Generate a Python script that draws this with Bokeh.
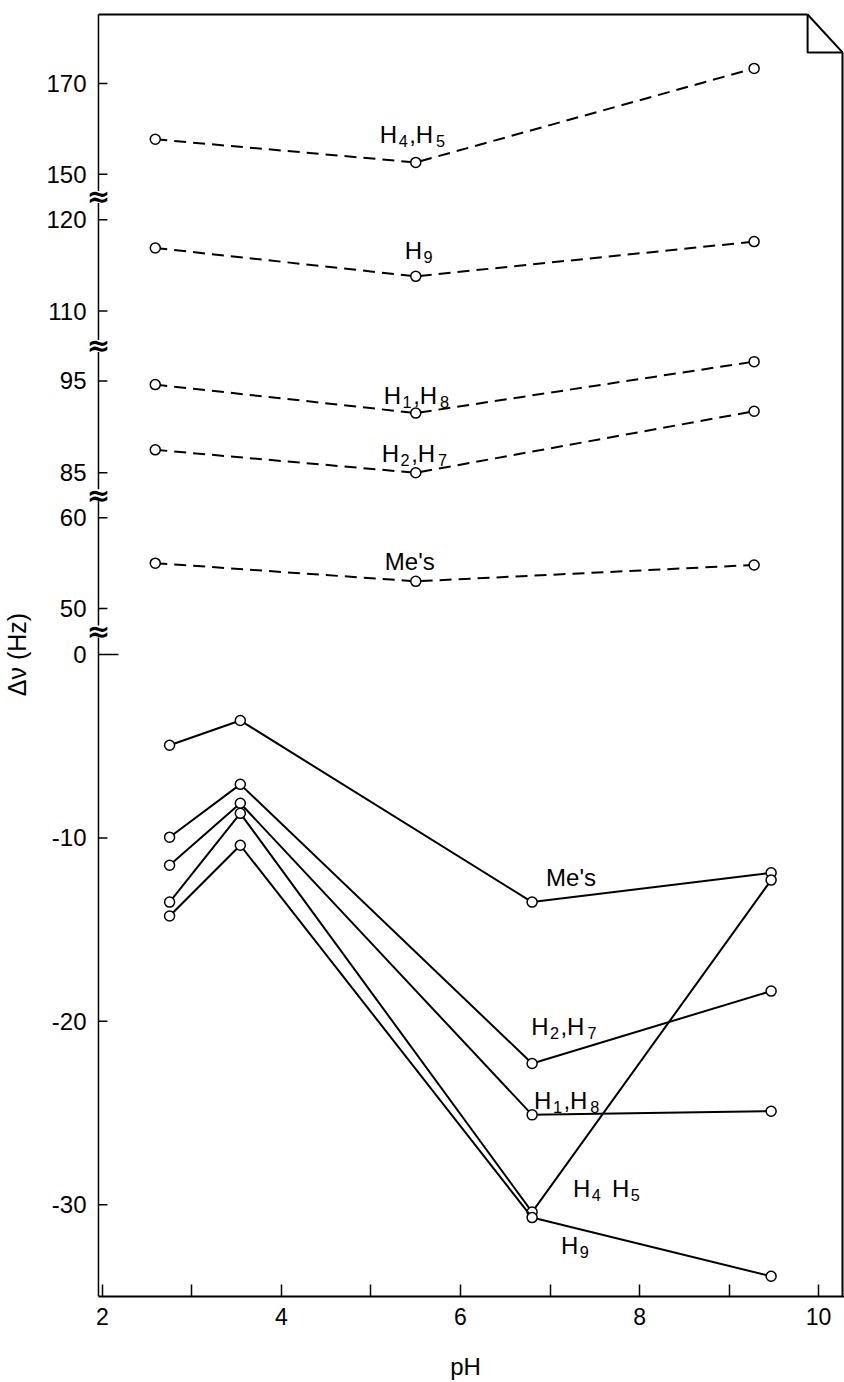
from bokeh.plotting import figure
from bokeh.models import Range1d, FixedTicker
from bokeh.core.properties import value
from bokeh.embed import file_html
from bokeh.resources import INLINE

# ---------------- data ----------------
PH_UPPER = [2.59, 5.50, 9.28]
UP_H45 = [157.7, 152.6, 173.3]
UP_H9 = [116.9, 113.8, 117.6]
UP_H18 = [94.6, 91.5, 97.1]
UP_H27 = [87.5, 85.0, 91.7]
UP_ME = [55.0, 53.0, 54.8]

PH_LOWER = [2.75, 3.54, 6.80, 9.47]
LO_ME = [-4.95, -3.6, -13.5, -11.9]
LO_H27 = [-9.96, -7.08, -22.3, -18.35]
LO_H18 = [-11.49, -8.11, -25.1, -24.9]
LO_H45 = [-13.5, -8.66, -30.4, -12.3]
LO_H9 = [-14.26, -10.4, -30.7, -33.9]

# "_d" marks a subscript digit
UP_LABELS = ["H_4,H_5", "H_9", "H_1,H_8", "H_2,H_7", "Me's"]
LO_LABELS = ["Me's", "H_2,H_7", "H_1,H_8", "H_4 H_5", "H_9"]

Y_TICKS = [170, 150, 120, 110, 95, 85, 60, 50, 0, -10, -20, -30]
X_TICKS = [2, 4, 6, 8, 10]
X_MINOR = [3, 5, 7, 9]
X_LABEL = "pH"
Y_LABEL = "\u0394\u03bd (Hz)"

# ---------------- layout ----------------
FONT = "Liberation Sans"
W, H = 844, 1382
XS = 89.75            # px per pH unit
YS = 18.37            # px per display unit
F_LEFT, F_TOP, F_BOTTOM = 84, 12, 1298
AXIS_PX = 96          # page x of the drawn left axis
ZERO_PY = 655         # page y of display 0
X0 = 2 - (100 - F_LEFT) / XS
X1 = X0 + (W - F_LEFT) / XS
Y0 = (ZERO_PY - F_BOTTOM) / YS
Y1 = (ZERO_PY - F_TOP) / YS

# broken axis: (Hz lo, Hz hi, display lo, display hi)
SEGMENTS = [
    (-35.0, 0.0, -35.0, 0.0),
    (50.0, 60.0, 2.504, 7.458),
    (85.0, 95.0, 9.907, 14.916),
    (110.0, 120.0, 18.726, 23.707),
    (150.0, 170.0, 26.184, 31.138),
]


def to_disp(v):
    best = None
    for lo, hi, dlo, dhi in SEGMENTS:
        d = 0.0 if lo <= v <= hi else min(abs(v - lo), abs(v - hi))
        if best is None or d < best[0]:
            best = (d, lo, hi, dlo, dhi)
    _, lo, hi, dlo, dhi = best
    return dlo + (v - lo) * (dhi - dlo) / (hi - lo)


def px_x(px):
    return X0 + (px - F_LEFT) / XS


def px_y(py):
    return (ZERO_PY - py) / YS


p = figure(width=W, height=H, x_range=Range1d(X0, X1), y_range=Range1d(Y0, Y1),
           output_backend="svg", toolbar_location=None,
           min_border_left=F_LEFT, min_border_right=0, min_border_top=F_TOP,
           min_border_bottom=H - F_BOTTOM)
p.outline_line_color = None
p.xgrid.visible = False
p.ygrid.visible = False
p.background_fill_color = "white"
p.border_fill_color = "white"

AX = px_x(AXIS_PX)

# x axis
xa = p.xaxis[0]
xa.ticker = FixedTicker(ticks=X_TICKS, minor_ticks=X_MINOR)
xa.bounds = (AX, X1)
xa.major_tick_in = 12
xa.major_tick_out = 0
xa.minor_tick_in = 12
xa.minor_tick_out = 0
xa.axis_line_width = 2
xa.major_tick_line_width = 1.5
xa.minor_tick_line_width = 1.5
xa.axis_line_color = "black"
xa.major_tick_line_color = "black"
xa.minor_tick_line_color = "black"
xa.major_label_text_font = FONT
xa.major_label_text_font_size = "23px"
xa.major_label_text_color = "black"
xa.major_label_standoff = 11
xa.axis_label = X_LABEL
xa.axis_label_text_font = FONT
xa.axis_label_text_font_size = "24px"
xa.axis_label_text_font_style = "normal"
xa.axis_label_text_color = "black"
xa.axis_label_standoff = 25

# y axis: labels from the axis, line/ticks drawn at the axis position with breaks
tick_pos = [round(to_disp(t), 4) for t in Y_TICKS]
ya = p.yaxis[0]
ya.ticker = FixedTicker(ticks=tick_pos, minor_ticks=[])
ya.major_label_overrides = {tp: str(t) for tp, t in zip(tick_pos, Y_TICKS)}
ya.major_tick_in = 0
ya.major_tick_out = 0
ya.minor_tick_in = 0
ya.minor_tick_out = 0
ya.axis_line_color = None
ya.major_label_text_font = FONT
ya.major_label_text_font_size = "24px"
ya.major_label_text_color = "black"
ya.major_label_standoff = 0
ya.axis_label = Y_LABEL
ya.axis_label_text_font = FONT
ya.axis_label_text_font_size = "25px"
ya.axis_label_text_font_style = "normal"
ya.axis_label_text_color = "black"
ya.axis_label_standoff = 12

# break positions between segments
segs = sorted(SEGMENTS, key=lambda s: s[2])
breaks = [(a[3] + b[2]) / 2 for a, b in zip(segs[:-1], segs[1:])]
TOP_Y = px_y(14)
gap = 6 / YS
edges = [Y0] + [v for b in breaks for v in (b - gap, b + gap)] + [TOP_Y]
p.multi_line(xs=[[AX, AX]] * (len(edges) // 2),
             ys=[[edges[2 * i], edges[2 * i + 1]] for i in range(len(edges) // 2)],
             line_color="black", line_width=1.5)
p.text(x=[AX] * len(breaks), y=breaks, text=["\u2248"] * len(breaks),
       text_font=value("DejaVu Sans"), text_font_size="28px", text_font_style="bold",
       text_color="black", text_align="center", text_baseline="middle")

# ticks on the left axis (longer at zero)
tl = [20 if t == 0 else 9 for t in Y_TICKS]
p.segment(x0=[AX] * len(Y_TICKS), y0=tick_pos, x1=[AX + L / XS for L in tl], y1=tick_pos,
          line_color="black", line_width=1.5)

# frame: top and right with folded corner
RIGHT_PX, FOLD_PX, FOLD_PY = 842, 807, 52
p.line([AX, px_x(FOLD_PX)], [TOP_Y] * 2, line_color="black", line_width=2)
p.line([px_x(FOLD_PX), px_x(RIGHT_PX)], [TOP_Y, px_y(FOLD_PY)], line_color="black", line_width=2)
p.line([px_x(FOLD_PX), px_x(FOLD_PX), px_x(RIGHT_PX)], [TOP_Y, px_y(FOLD_PY), px_y(FOLD_PY)],
       line_color="black", line_width=2)
p.line([px_x(RIGHT_PX)] * 2, [px_y(FOLD_PY), Y0], line_color="black", line_width=2)

# label drawing with subscripts
CW = {"H": .722, "M": .833, "e": .556, "'": .191, "s": .5, ",": .278, " ": .278}
TRACK = 1.5


def runs_of(label):
    out, i = [], 0
    while i < len(label):
        if label[i] == "_":
            out.append((label[i + 1], True))
            i += 2
        else:
            if out and not out[-1][1]:
                out[-1] = (out[-1][0] + label[i], False)
            else:
                out.append((label[i], False))
            i += 1
    return out


def draw_label(label, ax, ay, dx, dy, size):
    x = dx
    for txt, sub in runs_of(label):
        fs = size * 0.68 if sub else size
        yo = dy + (0.27 * size if sub else 0)
        lead = len(txt) - len(txt.lstrip(" "))
        x += lead * (CW[" "] * fs + TRACK * 2)
        txt = txt.lstrip(" ")
        p.text(x=[ax + x / XS], y=[ay - yo / YS], text=[txt],
               text_font=value(FONT), text_font_size=f"{fs:.1f}px", text_color="black",
               text_align="left", text_baseline="alphabetic")
        x += sum(CW.get(c, .556) * fs for c in txt) + TRACK * len(txt)


LSIZE = 24

# upper (dashed) series
upper = [UP_H45, UP_H9, UP_H18, UP_H27, UP_ME]
UP_OFF = [(-36, -28), (-11, -26), (-32, -18), (-34, -19), (-31, -20)]
for ser, lab, (dx, dy) in zip(upper, UP_LABELS, UP_OFF):
    ys = [to_disp(v) for v in ser]
    p.line(PH_UPPER, ys, line_color="black", line_width=2, line_dash="12 7")
    p.scatter(PH_UPPER, ys, marker="circle", size=10, fill_color="white",
              line_color="black", line_width=1.5)
    draw_label(lab, PH_UPPER[1], ys[1], dx, dy, LSIZE)

# lower (solid) series
lower = [LO_ME, LO_H27, LO_H18, LO_H45, LO_H9]
LO_OFF = [(14, -25), (-1, -37), (2, -14), (41, -24), (29, 28)]
for ser, lab, (dx, dy) in zip(lower, LO_LABELS, LO_OFF):
    ys = [to_disp(v) for v in ser]
    p.line(PH_LOWER, ys, line_color="black", line_width=2)
    p.scatter(PH_LOWER, ys, marker="circle", size=10, fill_color="white",
              line_color="black", line_width=1.5)
    draw_label(lab, PH_LOWER[2], ys[2], dx, dy, LSIZE)

open("out.html", "w").write(file_html(p, INLINE))
